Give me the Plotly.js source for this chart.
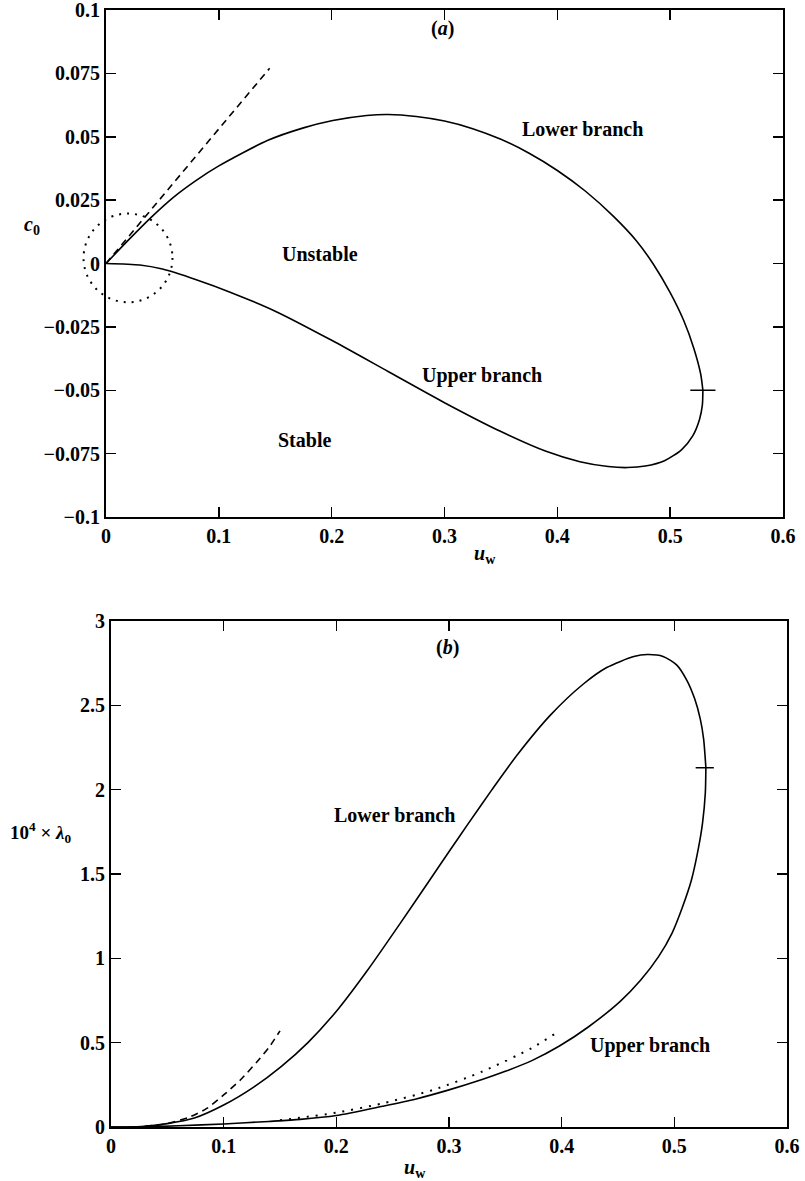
<!DOCTYPE html>
<html>
<head>
<meta charset="utf-8">
<script src="https://cdn.plot.ly/plotly-3.0.1.min.js"></script>
<style>html,body{margin:0;padding:0;background:#fff;}#chart{width:805px;height:1181px;}</style>
</head>
<body>
<div id="chart"></div>
<script>
// ---------- Panel (a): phase speed c0 vs u_w ----------
const lowerA_u = [0, 0.02, 0.04, 0.06, 0.08, 0.1, 0.143, 0.175, 0.201, 0.231, 0.25, 0.275, 0.3, 0.325, 0.35, 0.375, 0.4, 0.425, 0.45, 0.47, 0.485, 0.5, 0.512, 0.521, 0.527, 0.529];
const lowerA_c = [0, 0.0093, 0.0182, 0.0262, 0.0328, 0.0385, 0.0485, 0.0535, 0.0564, 0.0584, 0.0588, 0.058, 0.0562, 0.0532, 0.049, 0.0435, 0.0367, 0.0285, 0.0185, 0.009, -0.0002, -0.0115, -0.0225, -0.0335, -0.0435, -0.05];
const upperA_u = [0.529, 0.5285, 0.526, 0.52, 0.51, 0.495, 0.478, 0.462, 0.445, 0.42, 0.39, 0.35, 0.3, 0.25, 0.2, 0.15, 0.11, 0.08, 0.05, 0.03, 0];
const upperA_c = [-0.05, -0.056, -0.0615, -0.068, -0.0735, -0.0778, -0.0799, -0.0805, -0.0801, -0.0782, -0.0741, -0.0663, -0.0549, -0.0426, -0.0303, -0.0188, -0.0113, -0.0064, -0.0022, -0.0006, 0];
const dashA_u = [0, 0.145];
const dashA_c = [0, 0.077];
const noseA_u = [0.529];
const noseA_c = [-0.05];
// dotted circle around origin: centre and radii in data units
const circleA_centre = [0.0195, 0.0022];
const circleA_radius = [0.0394, 0.0175];

// ---------- Panel (b): growth rate 10^4 x lambda0 vs u_w ----------
const lowerB_u = [0, 0.027, 0.05, 0.074, 0.1, 0.127, 0.151, 0.175, 0.201, 0.228, 0.257, 0.284, 0.301, 0.316, 0.338, 0.361, 0.39, 0.419, 0.44, 0.464, 0.476, 0.49, 0.502, 0.511, 0.518, 0.523, 0.526, 0.528];
const lowerB_l = [0, 0.003, 0.02, 0.053, 0.13, 0.238, 0.358, 0.502, 0.694, 0.932, 1.21, 1.475, 1.642, 1.788, 1.999, 2.21, 2.442, 2.625, 2.724, 2.789, 2.801, 2.79, 2.74, 2.65, 2.54, 2.42, 2.3, 2.13];
const upperB_u = [0.528, 0.5275, 0.525, 0.521, 0.515, 0.507, 0.498, 0.486, 0.47, 0.452, 0.423, 0.398, 0.374, 0.35, 0.33, 0.3, 0.27, 0.241, 0.2, 0.168, 0.14, 0.1, 0.06, 0.03, 0];
const upperB_l = [2.13, 1.98, 1.8, 1.64, 1.46, 1.3, 1.15, 1.01, 0.87, 0.745, 0.59, 0.48, 0.395, 0.33, 0.283, 0.22, 0.165, 0.123, 0.068, 0.045, 0.033, 0.018, 0.007, 0.001, 0];
const dashB_u = [0.03, 0.05, 0.07, 0.085, 0.1, 0.115, 0.13, 0.14, 0.15];
const dashB_l = [0.004, 0.02, 0.06, 0.11, 0.19, 0.28, 0.39, 0.47, 0.57];
const dotB_u = [0.15, 0.168, 0.2, 0.241, 0.286, 0.33, 0.374, 0.395];
const dotB_l = [0.04, 0.055, 0.085, 0.14, 0.22, 0.33, 0.47, 0.557];
const noseB_u = [0.527];
const noseB_l = [2.13];

// ---------- ticks ----------
const xTickVals = [0, 0.1, 0.2, 0.3, 0.4, 0.5, 0.6];
const xTickText = ['0', '0.1', '0.2', '0.3', '0.4', '0.5', '0.6'];
const yATickVals = [-0.1, -0.075, -0.05, -0.025, 0, 0.025, 0.05, 0.075, 0.1];
const yATickText = ['\u22120.1', '\u22120.075', '\u22120.05', '\u22120.025', '0', '0.025', '0.05', '0.075', '0.1'];
const yBTickVals = [0, 0.5, 1, 1.5, 2, 2.5, 3];
const yBTickText = ['0', '0.5', '1', '1.5', '2', '2.5', '3'];

// ---------- labels in data coordinates ----------
const labelsA_text = ['(<i>a</i>)', 'Lower branch', 'Unstable', 'Upper branch', 'Stable'];
const labelsA_u = [0.298, 0.422, 0.19, 0.333, 0.176];
const labelsA_c = [0.0927, 0.0532, 0.0039, -0.0442, -0.0698];
const labelsB_text = ['(<i>b</i>)', 'Lower branch', 'Upper branch'];
const labelsB_u = [0.299, 0.252, 0.478];
const labelsB_l = [2.84, 1.85, 0.486];

const FONT = 'Liberation Serif, Times New Roman, serif';
const black = '#000';

const xRangeA = [0, 0.6], yRangeA = [-0.1, 0.1];
const xRangeB = [0, 0.6], yRangeB = [0, 3];

const bold = arr => arr.map(t => '<b>' + t + '</b>');

function solid(x, y, xa, ya) {
  return {x: x, y: y, xaxis: xa, yaxis: ya, type: 'scatter', mode: 'lines',
    line: {color: black, width: 1.6, shape: 'spline', smoothing: 0.7}, hoverinfo: 'skip'};
}
function styled(x, y, xa, ya, dash, w) {
  return {x: x, y: y, xaxis: xa, yaxis: ya, type: 'scatter', mode: 'lines',
    line: {color: black, width: w, dash: dash, shape: 'spline', smoothing: 0.7}, hoverinfo: 'skip'};
}
function nose(x, y, xa, ya, sz) {
  return {x: x, y: y, xaxis: xa, yaxis: ya, type: 'scatter', mode: 'markers', cliponaxis: false,
    marker: {symbol: 'line-ew', size: sz, color: black, line: {color: black, width: 1.5}}, hoverinfo: 'skip'};
}

const traces = [
  solid(lowerA_u, lowerA_c, 'x', 'y'),
  solid(upperA_u, upperA_c, 'x', 'y'),
  styled(dashA_u, dashA_c, 'x', 'y', '7px,5px', 1.6),
  nose(noseA_u, noseA_c, 'x', 'y', 18),
  solid(lowerB_u, lowerB_l, 'x2', 'y2'),
  solid(upperB_u, upperB_l, 'x2', 'y2'),
  styled(dashB_u, dashB_l, 'x2', 'y2', '7px,5px', 1.6),
  styled(dotB_u, dotB_l, 'x2', 'y2', '2px,7px', 2),
  nose(noseB_u, noseB_l, 'x2', 'y2', 13)
];

const tickFont = {family: FONT, size: 20, color: black};
function axisBase(extra) {
  return Object.assign({
    showline: true, linecolor: black, linewidth: 2, mirror: 'ticks',
    ticks: 'inside', ticklen: 10, tickwidth: 1.5, tickcolor: black,
    showgrid: false, zeroline: false, tickfont: tickFont, tickmode: 'array',
    ticklabeloverflow: 'allow', automargin: false, fixedrange: true
  }, extra);
}

// circle (domain-referenced so that it is not clipped at the y axis)
const dX = v => (v - xRangeA[0]) / (xRangeA[1] - xRangeA[0]);
const dY = v => (v - yRangeA[0]) / (yRangeA[1] - yRangeA[0]);
const shapes = [{
  type: 'circle', xref: 'x domain', yref: 'y domain',
  x0: dX(circleA_centre[0] - circleA_radius[0]), x1: dX(circleA_centre[0] + circleA_radius[0]),
  y0: dY(circleA_centre[1] - circleA_radius[1]), y1: dY(circleA_centre[1] + circleA_radius[1]),
  line: {color: black, width: 2, dash: '2px,6px'}, layer: 'above'
}];

const annFont = {family: FONT, size: 20, color: black};
const annotations = [];
labelsA_text.forEach((t, i) => annotations.push({x: labelsA_u[i], y: labelsA_c[i], xref: 'x', yref: 'y', text: '<b>' + t + '</b>',
  showarrow: false, font: annFont, xanchor: 'center', yanchor: 'middle'}));
labelsB_text.forEach((t, i) => annotations.push({x: labelsB_u[i], y: labelsB_l[i], xref: 'x2', yref: 'y2', text: '<b>' + t + '</b>',
  showarrow: false, font: annFont, xanchor: 'center', yanchor: 'middle'}));
// axis titles
annotations.push({xref: 'paper', yref: 'paper', x: 32 / 805, y: 1 - 225 / 1181, text: '<b><i>c</i><sub>0</sub></b>',
  showarrow: false, font: annFont, xanchor: 'center', yanchor: 'middle'});
annotations.push({xref: 'paper', yref: 'paper', x: 485 / 805, y: 1 - 555 / 1181, text: '<b><i>u</i><sub>w</sub></b>',
  showarrow: false, font: annFont, xanchor: 'center', yanchor: 'middle'});
annotations.push({xref: 'paper', yref: 'paper', x: 40 / 805, y: 1 - 833 / 1181, text: '<b>10<sup>4</sup> × <i>λ</i><sub>0</sub></b>',
  showarrow: false, font: {family: FONT, size: 19, color: black}, xanchor: 'center', yanchor: 'middle'});
annotations.push({xref: 'paper', yref: 'paper', x: 415 / 805, y: 1 - 1168 / 1181, text: '<b><i>u</i><sub>w</sub></b>',
  showarrow: false, font: annFont, xanchor: 'center', yanchor: 'middle'});

const layout = {
  width: 805, height: 1181,
  margin: {l: 0, r: 0, t: 0, b: 0},
  paper_bgcolor: '#fff', plot_bgcolor: '#fff',
  showlegend: false,
  xaxis: axisBase({domain: [106 / 805, 783 / 805], range: xRangeA, tickvals: xTickVals, ticktext: bold(xTickText), anchor: 'y'}),
  yaxis: axisBase({domain: [1 - 517 / 1181, 1 - 10 / 1181], range: yRangeA, tickvals: yATickVals, ticktext: bold(yATickText), anchor: 'x'}),
  xaxis2: axisBase({domain: [111 / 805, 787 / 805], range: xRangeB, tickvals: xTickVals, ticktext: bold(xTickText), anchor: 'y2'}),
  yaxis2: axisBase({domain: [1 - 1127 / 1181, 1 - 621 / 1181], range: yRangeB, tickvals: yBTickVals, ticktext: bold(yBTickText), anchor: 'x2'}),
  shapes: shapes,
  annotations: annotations
};

Plotly.newPlot('chart', traces, layout, {staticPlot: true, displayModeBar: false});
</script>
</body>
</html>
